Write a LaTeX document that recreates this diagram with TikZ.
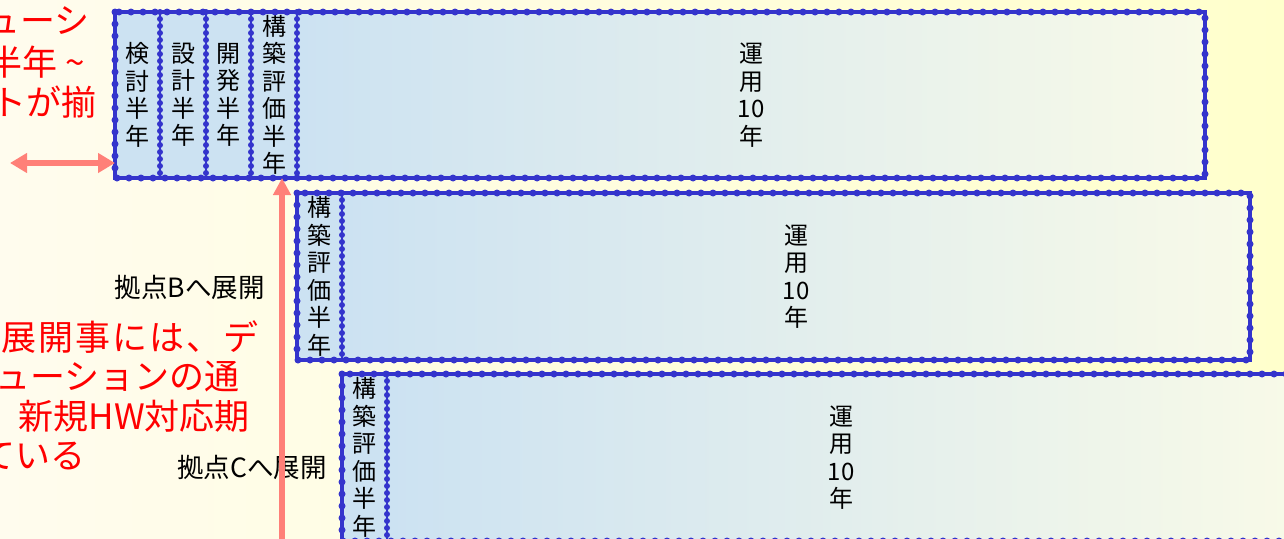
\documentclass[tikz,border=0pt]{standalone}
\usepackage{fontspec}
\setmainfont{Noto Sans CJK JP}
\usetikzlibrary{arrows.meta}
\definecolor{bgL}{HTML}{FFFCEE}
\definecolor{bgR}{HTML}{FFFFCC}
\definecolor{boxblue}{HTML}{CCE2F2}
\definecolor{boxend}{HTML}{F8FAE8}
\definecolor{edge}{HTML}{3434CC}
\definecolor{salmon}{HTML}{FF8078}
\definecolor{redtxt}{HTML}{FF0000}
\tikzset{
  cell/.style={rectangle, inner sep=0pt, outer sep=0pt, draw=none, fill=boxblue,
    align=center, anchor=north west, font=\fontsize{24}{27.5}\selectfont},
  opcell/.style={cell, fill=none, left color=boxblue, right color=boxend},
  frame/.style={draw=edge, line width=4.2pt,
    postaction={draw=edge, line width=7pt, line cap=round, dash pattern=on 0pt off 12pt}},
  divider/.style={draw=edge, line width=2pt,
    postaction={draw=edge, line width=6pt, line cap=round, dash pattern=on 0pt off 7pt}},
  redline/.style={text=redtxt, anchor=east, inner sep=0pt, font=\fontsize{35}{40}\selectfont},
  blacklabel/.style={text=black, anchor=east, inner sep=0pt, font=\fontsize{26.5}{30}\selectfont},
  salmonarrow/.style={draw=salmon, line width=5.5pt},
}
\begin{document}
\begin{tikzpicture}[x=1pt,y=-1pt]
\path[use as bounding box] (0,0) rectangle (1284,538);
\clip (0,0) rectangle (1284,538);
\shade[left color=bgL, right color=bgR] (0,0) rectangle (1284,538);

% Row 1
\node[cell, minimum width=45pt,  minimum height=166pt] (a1) at (115,12) {検\\討\\半\\年};
\node[cell, minimum width=46pt,  minimum height=166pt] (a2) at (160,12) {設\\計\\半\\年};
\node[cell, minimum width=45pt,  minimum height=166pt] (a3) at (206,12) {開\\発\\半\\年};
\node[cell, minimum width=46pt,  minimum height=166pt] (a4) at (251,12) {構\\築\\評\\価\\半\\年};
\node[opcell, minimum width=908pt, minimum height=166pt] (a5) at (297,12) {運\\用\\10\\年};
\draw[divider] (a1.north east) -- (a1.south east);
\draw[divider] (a2.north east) -- (a2.south east);
\draw[divider] (a3.north east) -- (a3.south east);
\draw[divider] (a4.north east) -- (a4.south east);
\draw[frame] (a1.north west) rectangle (a5.south east);

% Row 2
\node[cell, minimum width=45pt,  minimum height=167pt] (b1) at (297,193) {構\\築\\評\\価\\半\\年};
\node[opcell, minimum width=908pt, minimum height=167pt] (b2) at (342,193) {運\\用\\10\\年};
\draw[divider] (b1.north east) -- (b1.south east);
\draw[frame] (b1.north west) rectangle (b2.south east);

% Row 3
\node[cell, minimum width=45pt,  minimum height=167pt] (c1) at (342,374) {構\\築\\評\\価\\半\\年};
\node[opcell, minimum width=908pt, minimum height=167pt] (c2) at (387,374) {運\\用\\10\\年};
\draw[divider] (c1.north east) -- (c1.south east);
\draw[frame] (c1.north west) rectangle (c2.south east);

% Red text (cut off at the left edge)
\node[redline] (t1) at (90,21)  {ューシ};
\node[redline] (t2) at (85,62)  {半年 \textasciitilde};
\node[redline] (t3) at (97,102) {トが揃};
\node[redline] (u1) at (259,337) {展\kern2pt 開\kern2pt 事\kern2pt に\kern2pt は\kern2pt 、\kern2pt デ};
\node[redline] (u2) at (240,376) {ューションの通};
\node[redline] (u3) at (250,416) {新規HW対応期};
\node[redline] (u4) at (86,456)  {ている};

% Black labels
\node[blacklabel] (lb) at (265,287) {拠点Bへ展開};
\node[blacklabel] (lc) at (327,467) {拠点Cへ展開};

% Arrows
\coordinate (dl) at (10,163);
\draw[salmonarrow, {Triangle[width=19pt,length=17pt]}-{Triangle[width=19pt,length=17pt]}]
  (dl) -- (dl -| a1.west);
\coordinate (vb) at (282,560);
\draw[salmonarrow, -{Triangle[width=17pt,length=17pt]}] (vb) -- (vb |- a4.south);
\end{tikzpicture}
\end{document}
